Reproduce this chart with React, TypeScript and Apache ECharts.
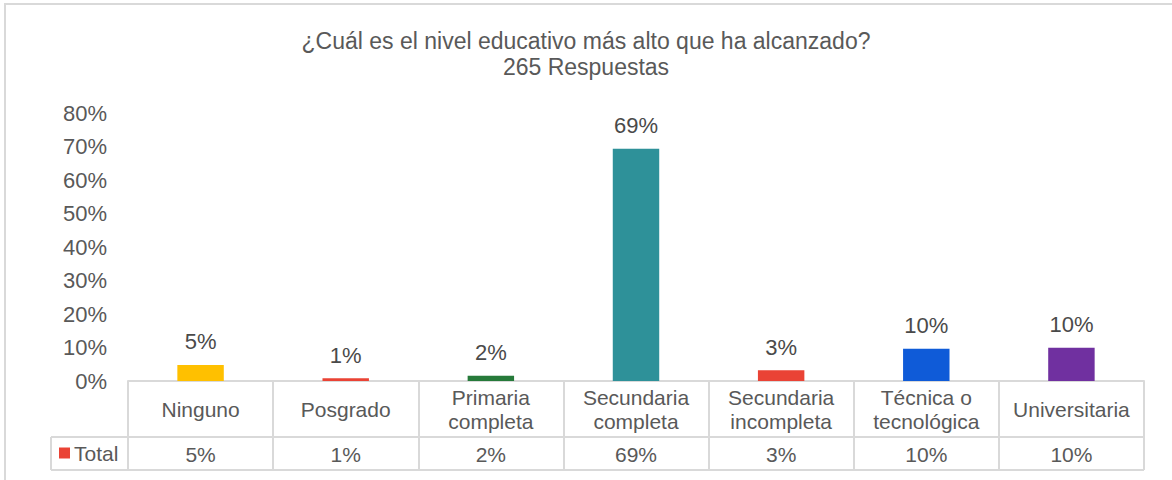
import React, { useEffect, useRef } from "react";
import * as echarts from "echarts";

const titleText = "¿Cuál es el nivel educativo más alto que ha alcanzado?";
const subtitleText = "265 Respuestas";
const categories = [
  "Ninguno",
  "Posgrado",
  "Primaria\ncompleta",
  "Secundaria\ncompleta",
  "Secundaria\nincompleta",
  "Técnica o\ntecnológica",
  "Universitaria",
];
const values = [0.048, 0.008, 0.016, 0.693, 0.032, 0.096, 0.099];
const barColors = ["#FFC000", "#EA4335", "#267A3A", "#2E9199", "#EA4335", "#0F5BD8", "#7030A0"];
const seriesName = "Total";
const yTicks = [0, 0.1, 0.2, 0.3, 0.4, 0.5, 0.6, 0.7, 0.8];

const pct = (v: number) => Math.round(v * 100) + "%";

export default function App() {
  const ref = useRef<HTMLDivElement>(null);
  useEffect(() => {
    if (!ref.current) return;
    const chart = echarts.init(ref.current, null, { renderer: "svg" });
    const grey = "#D9D9D9";
    const txt = "#595959";
    const font = "Liberation Sans, Arial, sans-serif";
    const W = 1172;
    const gridLeft = 128;
    const gridRight = 28;
    const axisY = 381;
    const rowY = 437;
    const bottomY = 470;
    const legendX = 51;
    chart.setOption({
      animation: false,
      backgroundColor: "#ffffff",
      title: {
        text: titleText + "\n" + subtitleText,
        left: "center",
        top: 28,
        padding: 0,
        textStyle: { fontSize: 23, lineHeight: 26, fontWeight: "normal", color: txt, fontFamily: font },
      },
      legend: {
        data: [seriesName],
        left: 59,
        top: 442,
        padding: 0,
        icon: "rect",
        itemWidth: 11,
        itemHeight: 11,
        textStyle: { fontSize: 21, lineHeight: 22, color: txt, fontFamily: font, padding: [0, 0, 0, -1] },
      },
      grid: { left: gridLeft, right: gridRight, top: 113, bottom: 480 - axisY, containLabel: false },
      xAxis: [
        {
          type: "category",
          data: categories,
          position: "bottom",
          axisLine: { show: true, lineStyle: { color: grey, width: 2 } },
          axisTick: { show: true, interval: 0, length: bottomY - axisY, lineStyle: { color: grey, width: 2 } },
          axisLabel: {
            interval: 0,
            margin: 28,
            verticalAlign: "middle",
            fontSize: 21,
            lineHeight: 24,
            color: txt,
            fontFamily: font,
          },
        },
        {
          type: "category",
          data: values.map(pct),
          position: "bottom",
          offset: 0,
          axisLine: { show: false },
          axisTick: { show: false },
          axisLabel: {
            interval: 0,
            margin: 73,
            verticalAlign: "middle",
            fontSize: 21,
            color: txt,
            fontFamily: font,
          },
        },
      ],
      yAxis: {
        type: "value",
        min: 0,
        max: yTicks[yTicks.length - 1],
        interval: 0.1,
        axisLine: { show: false },
        axisTick: { show: false },
        splitLine: { show: false },
        axisLabel: { formatter: (v: number) => pct(v), fontSize: 22, color: txt, fontFamily: font, margin: 21 },
      },
      series: [
        {
          name: seriesName,
          type: "bar",
          xAxisIndex: 0,
          barWidth: "32%",
          itemStyle: { color: "#EA4335" },
          data: values.map((v, i) => ({ value: v, itemStyle: { color: barColors[i] } })),
          label: {
            show: true,
            position: "top",
            distance: 12,
            formatter: (p: any) => pct(p.value),
            fontSize: 22,
            color: "#4A4A4A",
            fontFamily: font,
          },
        },
      ],
      graphic: [
        {
          type: "rect",
          shape: { x: 5, y: 4, width: 1300, height: 600 },
          style: { fill: "none", stroke: grey, lineWidth: 2 },
          silent: true,
        },
        {
          type: "line",
          shape: { x1: legendX, y1: rowY, x2: W - gridRight, y2: rowY },
          style: { stroke: grey, lineWidth: 2 },
        },
        {
          type: "line",
          shape: { x1: legendX, y1: bottomY, x2: W - gridRight, y2: bottomY },
          style: { stroke: grey, lineWidth: 2 },
        },
        {
          type: "line",
          shape: { x1: legendX, y1: rowY, x2: legendX, y2: bottomY },
          style: { stroke: grey, lineWidth: 2 },
        },
      ],
    });
    return () => chart.dispose();
  }, []);
  return (
    <div
      ref={ref}
      style={{ position: "fixed", left: 0, top: 0, width: 1172, height: 480, background: "#fff" }}
    />
  );
}
